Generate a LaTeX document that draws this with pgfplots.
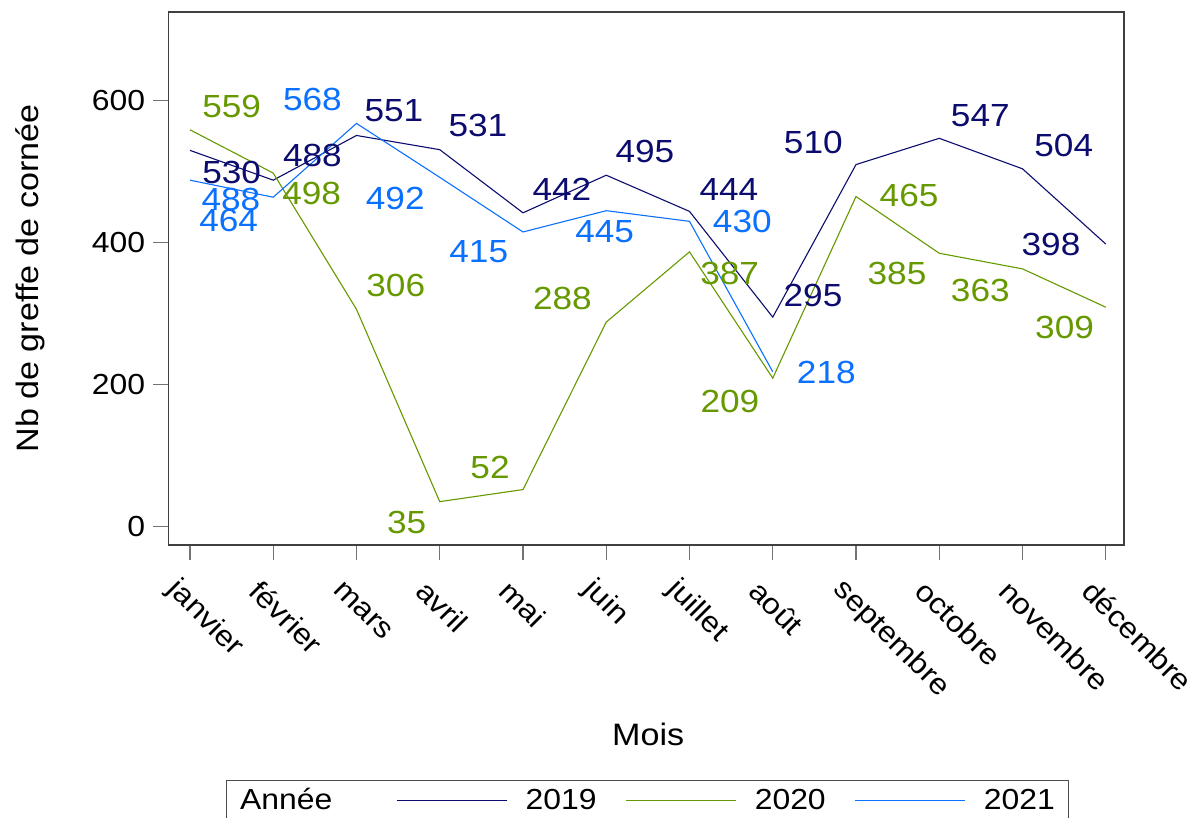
\documentclass[border=0pt]{standalone}
\usepackage{fontspec}
\setmainfont{Liberation Sans}[FakeStretch=1.1]
\usepackage{pgfplots}
\usepackage{pgfplotstable}
\pgfplotsset{compat=1.18}
\definecolor{c19}{RGB}{12,12,110}
\definecolor{c20}{RGB}{102,153,0}
\definecolor{c21}{RGB}{10,112,255}

\pgfplotstableread{
x y
0 530
1 488
2 551
3 531
4 442
5 495
6 444
7 295
8 510
9 547
10 504
11 398
}\dataA
\pgfplotstableread{
x y
0 559
1 498
2 306
3 35
4 52
5 288
6 387
7 209
8 465
9 385
10 363
11 309
}\dataB
\pgfplotstableread{
x y
0 488
1 464
2 568
3 492
4 415
5 445
6 430
7 218
}\dataC

% label positions (x in month index, y in data units)
\pgfplotstableread{
x y lab
0.501 498.8 530
1.471 522.3 488
2.450 585.7 551
3.459 564.6 531
4.468 475.8 442
5.465 528.1 495
6.474 475.5 444
7.483 326.2 295
7.487 541.8 510
9.493 578.7 547
10.495 536.4 504
10.342 397.1 398
}\labA
\pgfplotstableread{
x y lab
0.501 592.5 559
1.462 468.9 498
2.472 340.3 306
2.603 5.6 35
3.604 83.8 52
4.474 320.6 288
6.483 356.1 387
6.486 176.8 209
8.637 466.0 465
8.492 356.1 385
9.493 333.2 363
10.505 280.4 309
}\labB
\pgfplotstableread{
x y lab
0.492 460.8 488
0.465 431.9 464
1.471 601.7 568
2.466 462.5 492
3.469 386.8 415
4.981 415.0 445
6.634 429.1 430
7.643 217.7 218
}\labC

\begin{document}
\begin{tikzpicture}
\begin{axis}[
  at={(0pt,0pt)}, anchor=south west,
  scale only axis, width=477.75pt, height=266.5pt,
  xmin=-0.258, xmax=11.219, ymin=-26.1, ymax=725,
  xtick={0,1,2,3,4,5,6,7,8,9,10,11},
  xticklabels={janvier,février,mars,avril,mai,juin,juillet,août,septembre,octobre,novembre,décembre},
  ytick={0,200,400,600},
  tick pos=left, tick align=outside, major tick length=7.5pt,
  axis line style={draw=black!75, line width=0.75pt},
  tick style={draw=black!55, line width=0.6pt},
  tick label style={font=\fontsize{14.5}{17}\selectfont},
  /pgf/number format/assume math mode=true,
  xticklabel style={anchor=west, inner sep=0pt, xshift=-9.2pt, yshift=-12.7pt, rotate=-45},
  yticklabel style={anchor=east, inner sep=0pt, xshift=-4pt},
  xlabel={Mois},
  ylabel={Nb de greffe de cornée},
  label style={font=\fontsize{15.5}{18}\selectfont},
  xlabel style={at={(axis description cs:0.502,-0.356)}, anchor=center, inner sep=0pt},
  ylabel style={at={(axis description cs:-0.145,0.5)}, anchor=center, inner sep=0pt},
  legend columns=-1,
  legend image code/.code={\draw[#1] (0pt,0pt) -- (55pt,0pt);},
  legend style={at={(axis description cs:0.0602,-0.4409)}, anchor=north west,
    draw=black!70, line width=0.6pt, inner xsep=6.7pt, inner ysep=4pt,
    font=\fontsize{14.5}{17}\selectfont,
    nodes={inner sep=0pt},
    /tikz/every odd column/.style={column sep=9pt},
    /tikz/every even column/.style={column sep=14.5pt}},
  legend cell align=left,
]
\addlegendimage{empty legend}
\addlegendentry{\hspace*{-9pt}\makebox[63.8pt][l]{Année}}

\addplot[c19, line width=0.55pt, mark=none] table[x=x,y=y] {\dataA};
\addlegendentry{2019}
\addplot[c20, line width=0.55pt, mark=none] table[x=x,y=y] {\dataB};
\addlegendentry{2020}
\addplot[c21, line width=0.55pt, mark=none] table[x=x,y=y] {\dataC};
\addlegendentry{2021}

\addplot[forget plot, draw=none, mark=none, nodes near coords, point meta=explicit symbolic,
  nodes near coords style={anchor=center, inner sep=0pt, text=c19, font=\fontsize{16}{19}\selectfont}]
  table[x=x,y=y,meta=lab] {\labA};
\addplot[forget plot, draw=none, mark=none, nodes near coords, point meta=explicit symbolic,
  nodes near coords style={anchor=center, inner sep=0pt, text=c20, font=\fontsize{16}{19}\selectfont}]
  table[x=x,y=y,meta=lab] {\labB};
\addplot[forget plot, draw=none, mark=none, nodes near coords, point meta=explicit symbolic,
  nodes near coords style={anchor=center, inner sep=0pt, text=c21, font=\fontsize{16}{19}\selectfont}]
  table[x=x,y=y,meta=lab] {\labC};
\end{axis}
\pgfresetboundingbox
\path (-84.25pt,-136.5pt) rectangle (517.25pt,272.5pt);
\end{tikzpicture}
\end{document}
